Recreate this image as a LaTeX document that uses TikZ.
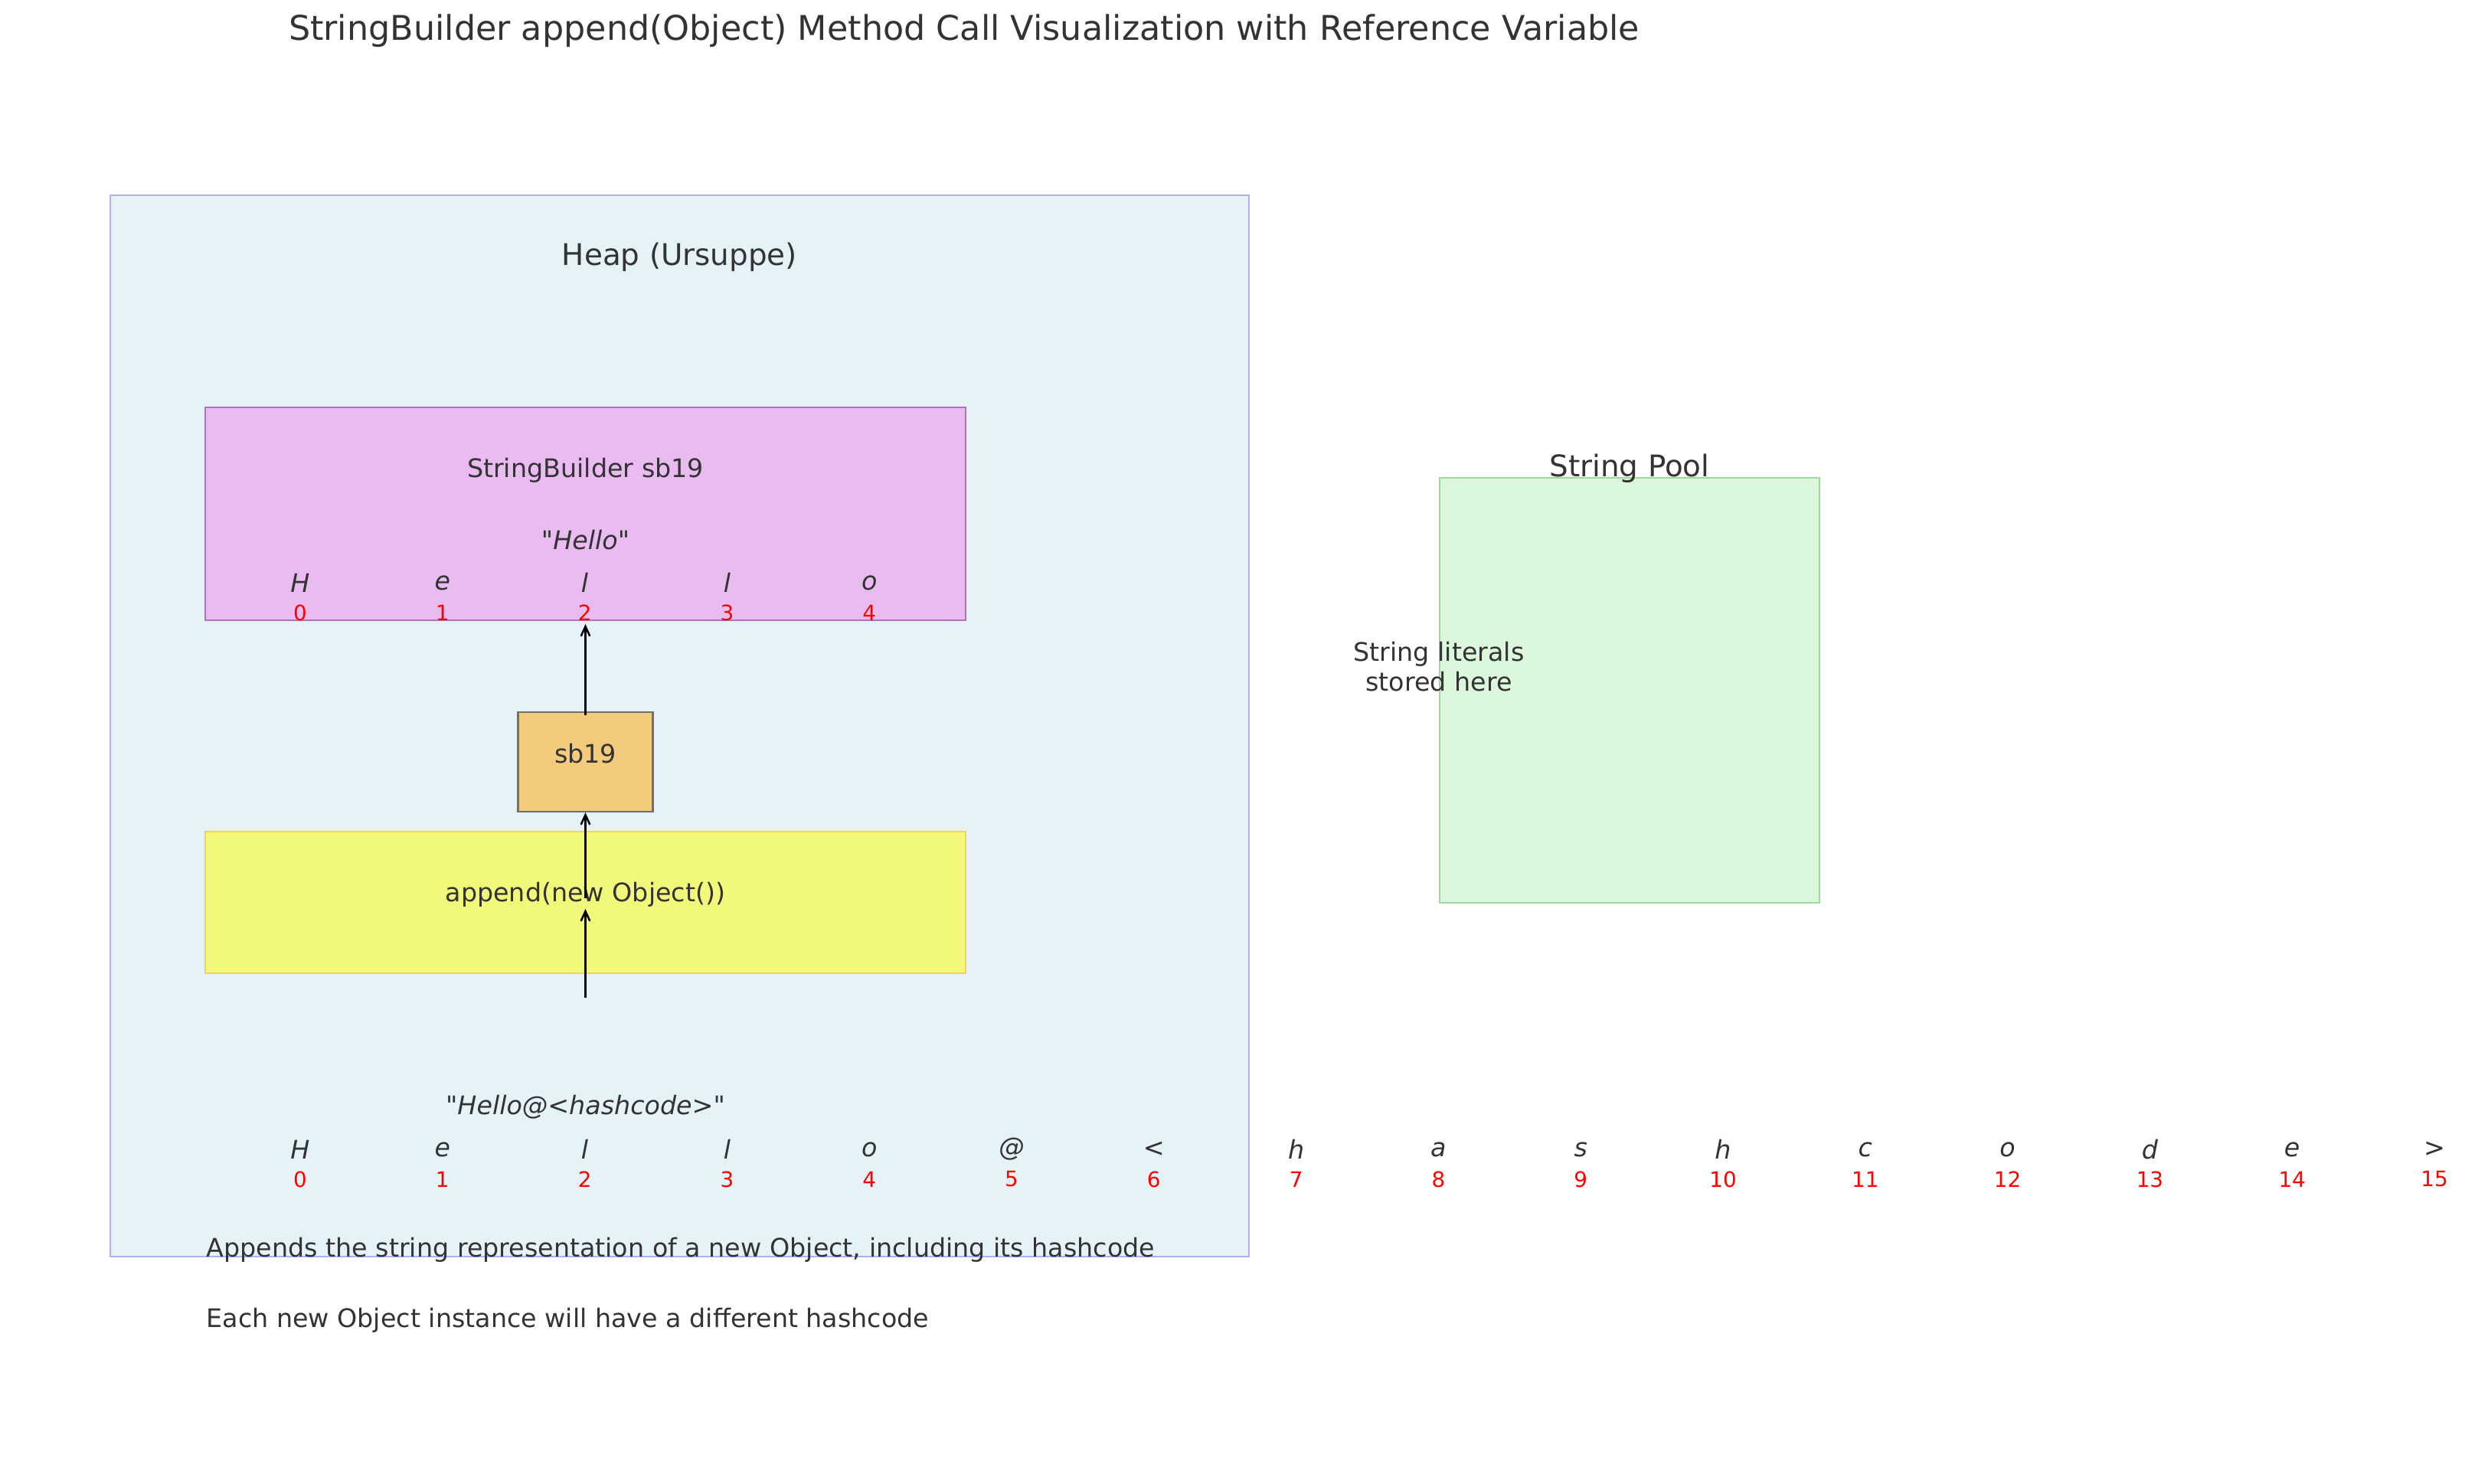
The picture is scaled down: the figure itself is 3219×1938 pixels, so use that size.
\documentclass[tikz,border=0pt]{standalone}
\usepackage{fontspec}
\setmainfont{DejaVu Sans}[Ligatures=TeXOff]
\usetikzlibrary{arrows.meta}
\definecolor{txt}{RGB}{51,51,51}
\definecolor{heapfill}{RGB}{229,242,247}
\definecolor{heapdraw}{RGB}{170,176,250}
\definecolor{sbfill}{RGB}{233,187,241}
\definecolor{sbdraw}{RGB}{180,110,195}
\definecolor{varfill}{RGB}{242,204,124}
\definecolor{vardraw}{RGB}{112,112,112}
\definecolor{apfill}{RGB}{242,249,122}
\definecolor{apdraw}{RGB}{245,210,80}
\definecolor{poolfill}{RGB}{220,248,220}
\definecolor{pooldraw}{RGB}{160,216,160}
\tikzset{
  box/.style={draw, line width=0.8pt, inner sep=0pt, rectangle},
  lbl/.style={text=txt, inner sep=0pt, font=\fontsize{12}{14}\selectfont},
  biglbl/.style={text=txt, inner sep=0pt, font=\fontsize{14}{17}\selectfont},
  ch/.style={text=txt, inner sep=0pt, font=\fontsize{12}{14}\selectfont\itshape},
  idx/.style={text=red, inner sep=0pt, font=\fontsize{10}{12}\selectfont},
  arr/.style={-{Straight Barb[length=4.6pt,width=4.2pt]}, line width=0.9pt, black},
}
\begin{document}
\begin{tikzpicture}[x=0.36pt,y=-0.36pt]
\useasboundingbox (0,0) rectangle (3219,1938);
\fill[white] (0,0) rectangle (3219,1938);

% title
\node[text=txt, inner sep=0pt, font=\fontsize{16}{19}\selectfont] (title) at (1259,40)
  {StringBuilder append(Object) Method Call Visualization with Reference Variable};

% heap
\node[box, fill=heapfill, draw=heapdraw, minimum width=1487*0.36pt, minimum height=1386*0.36pt] (heap) at (887.5,948) {};
\node[biglbl] (heaplbl) at (887.5,336) {Heap (Ursuppe)};

% StringBuilder object
\node[box, fill=sbfill, draw=sbdraw, minimum width=993*0.36pt, minimum height=278*0.36pt] (sb) at (764.5,671) {};
\node[lbl] (sblbl) at (764.5,614) {StringBuilder sb19};
\node[ch] (hello) at (764.5,705) {"Hello"};
\foreach \c [count=\i from 0] in {H,e,l,l,o} {
  \node[ch] (a\i) at ({392+185.8*\i},761) {\c};
  \node[idx] (ai\i) at ({392+185.8*\i},800) {\i};
}

% reference variable
\node[box, fill=varfill, draw=vardraw, minimum width=176*0.36pt, minimum height=130*0.36pt] (var) at (764.5,995) {};
\node[lbl] (varlbl) at (764.5,984) {sb19};

% append box
\node[box, fill=apfill, draw=apdraw, minimum width=993*0.36pt, minimum height=185*0.36pt] (ap) at (764.5,1178.5) {};
\node[lbl] (aplbl) at (764.5,1168) {append(new Object())};

% arrows
\coordinate (v1) at (764.5,934);
\coordinate (v1t) at (764.5,815);
\draw[arr] (v1) -- (v1t);
\coordinate (a2s) at (764.5,1173);
\draw[arr] (a2s) -- (var.south);
\coordinate (a3s) at (764.5,1303);
\coordinate (a3t) at (764.5,1187);
\draw[arr] (a3s) -- (a3t);

% result string
\node[ch] (res) at (764.5,1446) {"Hello@<hashcode>"};
\foreach \c [count=\i from 0] in {H,e,l,l,o,@,<,h,a,s,h,c,o,d,e,>} {
  \node[ch] (b\i) at ({392+185.8*\i},1501) {\c};
  \node[idx] (bi\i) at ({392+185.8*\i},1540) {\i};
}

% notes
\node[lbl, anchor=west] (n1) at (269,1632) {Appends the string representation of a new Object, including its hashcode};
\node[lbl, anchor=west] (n2) at (269,1724) {Each new Object instance will have a different hashcode};

% string pool
\node[box, fill=poolfill, draw=pooldraw, minimum width=496*0.36pt, minimum height=555*0.36pt] (pool) at (2128,901.5) {};
\node[biglbl] (poollbl) at (2128,612) {String Pool};
\node[lbl, align=center, font=\fontsize{12}{14}\selectfont] (poolnote) at (1879,871) {String literals\\stored here};
\end{tikzpicture}
\end{document}
